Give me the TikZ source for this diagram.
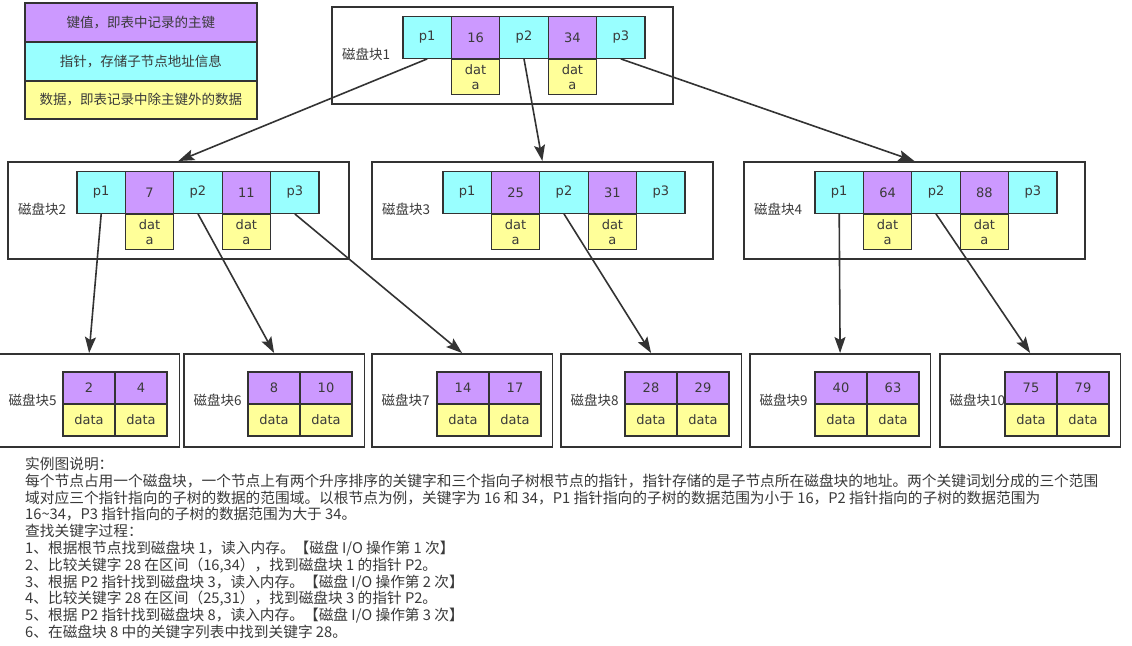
\documentclass[tikz,border=0pt]{standalone}
\usepackage{fontspec}
\setmainfont{Noto Sans CJK SC}
\newfontfamily\latf{DejaVu Sans}
\usetikzlibrary{arrows.meta}
\definecolor{keyc}{HTML}{CC99FF}
\definecolor{ptrc}{HTML}{99FFFF}
\definecolor{datc}{HTML}{FFFF99}
\definecolor{ln}{HTML}{333333}
\definecolor{tx}{HTML}{3A3A3A}
\newcommand\mkblock[7]{%
  % #1 name, #2 outer x0, #3 outer y0, #4 cells x0, #5 label, #6 key1, #7 key2
  \node[blk, anchor=north west, minimum width=341pt, minimum height=97pt] (#1) at (#2,#3) {};
  \node[lbl, anchor=west] (#1lab) at (#2+11,#3+48.5) {#5};
  \node[pc] (#1p1) at (#4+24.2,#3+31.5) {p1};
  \node[kc] (#1k1) at (#4+72.6,#3+31.5) {#6};
  \node[pc] (#1p2) at (#4+121,#3+31.5) {p2};
  \node[kc] (#1k2) at (#4+169.4,#3+31.5) {#7};
  \node[pc] (#1p3) at (#4+217.8,#3+31.5) {p3};
  \node[dc, anchor=north] (#1d1) at (#1k1.south) {dat\\a};
  \node[dc, anchor=north] (#1d2) at (#1k2.south) {dat\\a};
}
\newcommand\mkleaf[5]{%
  % #1 name, #2 outer x0, #3 cells x0, #4 label, #5 keys
  \node[blk, anchor=north west, minimum width=180.5pt, minimum height=93pt] (#1) at (#2,353) {};
  \node[lbl, anchor=west] (#1lab) at (#2+10.5,400) {#4};
  \foreach \kk [count=\ii] in {#5} {
    \node[lk] (#1k\ii) at (#3-26+52*\ii,388) {\kk};
    \node[ld] (#1d\ii) at (#3-26+52*\ii,420) {data};
  }
}
\begin{document}
\begin{tikzpicture}[x=1pt,y=-1pt,
  blk/.style={draw=ln, line width=1.7pt, inner sep=0pt},
  cellbase/.style={draw=ln, line width=1.3pt, inner sep=0pt, text=tx, font=\latf\fontsize{13}{14}\selectfont},
  kc/.style={cellbase, fill=keyc, minimum width=48.4pt, minimum height=41.5pt},
  pc/.style={cellbase, fill=ptrc, minimum width=48.4pt, minimum height=41.5pt},
  dc/.style={cellbase, fill=datc, minimum width=48.4pt, minimum height=35pt, align=center, font=\latf\fontsize{13}{15}\selectfont},
  lk/.style={cellbase, fill=keyc, minimum width=52pt, minimum height=32pt},
  ld/.style={cellbase, fill=datc, minimum width=52pt, minimum height=32pt},
  lbl/.style={text=tx, font=\fontsize{13.5}{14}\selectfont, inner sep=0pt},
  leg/.style={draw=ln, line width=1.7pt, inner sep=0pt, anchor=north west, minimum width=232pt, text=tx, font=\fontsize{13.5}{15}\selectfont},
  arr/.style={draw=ln, line width=1.6pt, -{Stealth[length=16pt,width=11pt,inset=3pt]}},
  txt/.style={anchor=base west, inner sep=0pt, text=tx, font=\fontsize{14.7}{16}\selectfont}
]
\useasboundingbox[fill=white] (0,0) rectangle (1132,645);

% legend
\node[leg, fill=keyc, minimum height=39pt] (lg1) at (24,2) {键值，即表中记录的主键};
\node[leg, fill=ptrc, minimum height=39pt] (lg2) at (24,41) {指针，存储子节点地址信息};
\node[leg, fill=datc, minimum height=38pt] (lg3) at (24,80) {数据，即表记录中除主键外的数据};

% inner blocks
\mkblock{b1}{331}{6}{403}{磁盘块1}{16}{34}
\mkblock{b2}{7}{161}{77}{磁盘块2}{7}{11}
\mkblock{b3}{371}{161}{443}{磁盘块3}{25}{31}
\mkblock{b4}{743}{161}{815}{磁盘块4}{64}{88}

% leaves
\mkleaf{l5}{-2}{63}{磁盘块5}{2,4}
\mkleaf{l6}{183}{248}{磁盘块6}{8,10}
\mkleaf{l7}{371}{437}{磁盘块7}{14,17}
\mkleaf{l8}{560}{625}{磁盘块8}{28,29}
\mkleaf{l9}{749}{815}{磁盘块9}{40,63}
\mkleaf{l10}{939}{1005}{磁盘块10}{75,79}

% connectors
\draw[arr] (b1p1.south) -- (b2.north);
\draw[arr] (b1p2.south) -- (b3.north);
\draw[arr] (b1p3.south) -- (b4.north);
\draw[arr] (b2p1.south) -- (l5.north);
\draw[arr] (b2p2.south) -- (l6.north);
\draw[arr] (b2p3.south) -- (l7.north);
\draw[arr] (b3p2.south) -- (l8.north);
\draw[arr] (b4p1.south) -- (l9.north);
\draw[arr] (b4p2.south) -- (l10.north);

% description
\node[txt] (t1) at (25,469.5) {实例图说明：};
\node[txt] (t2) at (25,486.3) {每个节点占用一个磁盘块，一个节点上有两个升序排序的关键字和三个指向子树根节点的指针，指针存储的是子节点所在磁盘块的地址。两个关键词划分成的三个范围};
\node[txt] (t3) at (25,503.1) {域对应三个指针指向的子树的数据的范围域。以根节点为例，关键字为 16 和 34，P1 指针指向的子树的数据范围为小于 16，P2 指针指向的子树的数据范围为};
\node[txt] (t4) at (25,519.9) {16\textasciitilde34，P3 指针指向的子树的数据范围为大于 34。};
\node[txt] (t5) at (25,536.7) {查找关键字过程：};
\node[txt] (t6) at (25,553.5) {1、根据根节点找到磁盘块 1，读入内存。【磁盘 I/O 操作第 1 次】};
\node[txt] (t7) at (25,570.3) {2、比较关键字 28 在区间（16,34），找到磁盘块 1 的指针 P2。};
\node[txt] (t8) at (25,587.1) {3、根据 P2 指针找到磁盘块 3，读入内存。【磁盘 I/O 操作第 2 次】};
\node[txt] (t9) at (25,603.9) {4、比较关键字 28 在区间（25,31），找到磁盘块 3 的指针 P2。};
\node[txt] (t10) at (25,620.7) {5、根据 P2 指针找到磁盘块 8，读入内存。【磁盘 I/O 操作第 3 次】};
\node[txt] (t11) at (25,637.5) {6、在磁盘块 8 中的关键字列表中找到关键字 28。};
\end{tikzpicture}
\end{document}
